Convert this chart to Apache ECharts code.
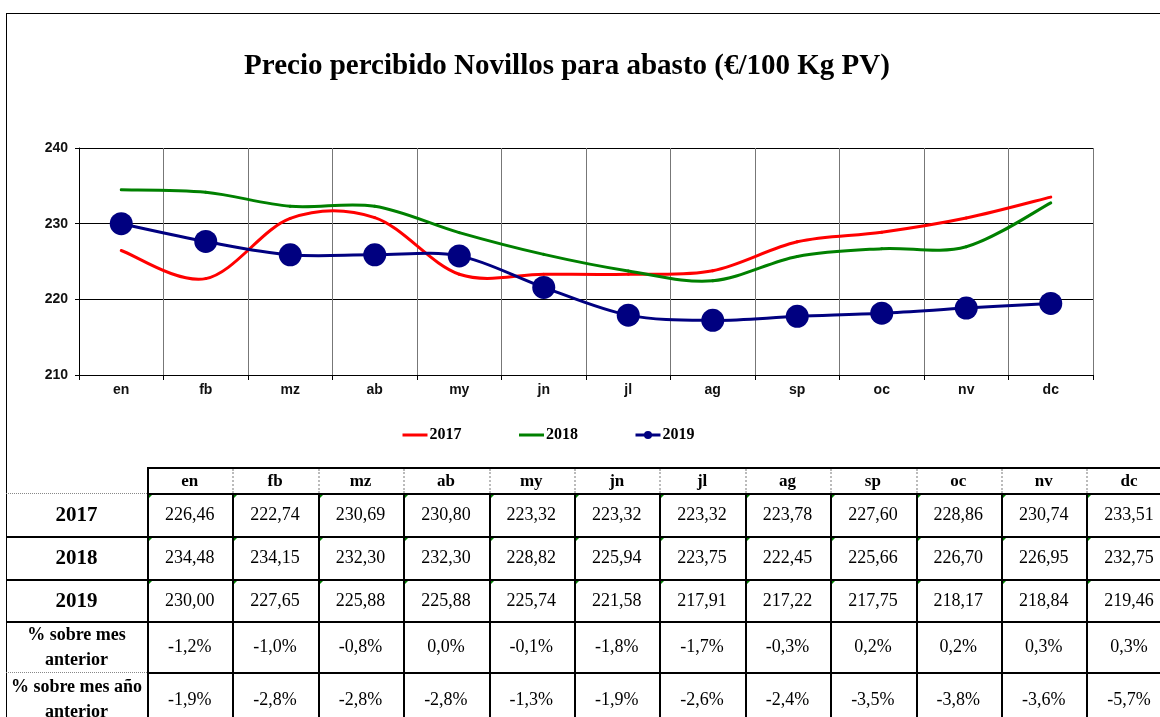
<!DOCTYPE html>
<html>
<head>
<meta charset="utf-8">
<script src="https://cdn.jsdelivr.net/npm/echarts@6/dist/echarts.min.js"></script>
<style>
  html, body { margin:0; padding:0; background:#fff; }
  #wrap { position:relative; width:1160px; height:717px; overflow:hidden; background:#fff; }
  #chart { position:absolute; left:0; top:0; width:1160px; height:717px; }
  #overlay { position:absolute; left:0; top:0; width:1160px; height:717px; pointer-events:none; }
  .ln { position:absolute; }
  .cell { position:absolute; display:flex; align-items:center; justify-content:center; text-align:center;
          font-family:"Liberation Serif","Times New Roman",serif; color:#000; box-sizing:border-box; }
  .tri { position:absolute; width:0; height:0; border-top:5px solid #008000; border-right:5px solid transparent; }
</style>
</head>
<body>
<div id="wrap">
  <div id="chart"></div>
  <div id="overlay"></div>
</div>
<script>
// ---- data ----
const months = ['en','fb','mz','ab','my','jn','jl','ag','sp','oc','nv','dc'];
const seriesNames = ['2017','2018','2019'];
const values2017 = [226.46,222.74,230.69,230.80,223.32,223.32,223.32,223.78,227.60,228.86,230.74,233.51];
const values2018 = [234.48,234.15,232.30,232.30,228.82,225.94,223.75,222.45,225.66,226.70,226.95,232.75];
const values2019 = [230.00,227.65,225.88,225.88,225.74,221.58,217.91,217.22,217.75,218.17,218.84,219.46];
const pctPrevMonth = [-1.2,-1.0,-0.8,0.0,-0.1,-1.8,-1.7,-0.3,0.2,0.2,0.3,0.3];
const pctPrevYear = [-1.9,-2.8,-2.8,-2.8,-1.3,-1.9,-2.6,-2.4,-3.5,-3.8,-3.6,-5.7];
const rowLabels = ['2017','2018','2019','% sobre mes anterior','% sobre mes año anterior'];
const yMin = 210, yMax = 240, yStep = 10;
const titleText = 'Precio percibido Novillos para abasto (€/100 Kg PV)';

const colors = ['#ff0000', '#008000', '#000080'];
const lineW = 3;

// Excel-style smoothed curve drawn through the axis scales (custom series)
function smoothCurve(values, color, z) {
  return {
    type:'custom', name:'curve', coordinateSystem:'cartesian2d', silent:true, z:z,
    data:[[0, values[0]]],
    renderItem:function(params, api) {
      const pts = values.map((v, i) => api.coord([i, v]));
      const children = [];
      for (let i = 0; i < pts.length - 1; i++) {
        const p0 = pts[i - 1] || pts[i], p1 = pts[i], p2 = pts[i + 1], p3 = pts[i + 2] || pts[i + 1];
        children.push({
          type:'bezierCurve',
          shape:{
            x1:p1[0], y1:p1[1], x2:p2[0], y2:p2[1],
            cpx1:p1[0] + (p2[0] - p0[0]) / 6, cpy1:p1[1] + (p2[1] - p0[1]) / 6,
            cpx2:p2[0] - (p3[0] - p1[0]) / 6, cpy2:p2[1] - (p3[1] - p1[1]) / 6
          },
          style:{fill:null, stroke:color, lineWidth:lineW, lineCap:'round', lineJoin:'round'}
        });
      }
      return {type:'group', children:children};
    }
  };
}

// ---- chart ----
const chart = echarts.init(document.getElementById('chart'), null, {renderer:'canvas'});
chart.setOption({
  animation:false,
  backgroundColor:'#fff',
  title:{
    text:titleText, left:562, top:47, textAlign:'center',
    textStyle:{fontFamily:'Liberation Serif', fontWeight:'bold', fontSize:29, color:'#000'}
  },
  legend:{
    left:396, top:422, itemWidth:25, itemHeight:10, itemGap:56,
    textStyle:{fontFamily:'Liberation Serif', fontWeight:'bold', fontSize:16, color:'#000', padding:[0,0,0,-3]},
    data:[
      {name:seriesNames[0], itemStyle:{opacity:0}, lineStyle:{width:3, color:colors[0], opacity:1}},
      {name:seriesNames[1], itemStyle:{opacity:0}, lineStyle:{width:3, color:colors[1], opacity:1}},
      {name:seriesNames[2], lineStyle:{width:3, color:colors[2], opacity:1}}
    ]
  },
  grid:{left:79, right:67, top:148, bottom:342, containLabel:false},
  xAxis:{
    type:'category', data:months, boundaryGap:true,
    axisLine:{lineStyle:{color:'#000', width:1}},
    axisTick:{show:true, length:5, lineStyle:{color:'#000'}},
    axisLabel:{fontFamily:'Liberation Sans', fontWeight:'bold', fontSize:14, color:'#111', margin:8},
    splitLine:{show:true, lineStyle:{color:'#777', width:1}}
  },
  yAxis:{
    type:'value', min:yMin, max:yMax, interval:yStep,
    axisLine:{show:true, lineStyle:{color:'#000', width:1}},
    axisTick:{show:true, length:4, lineStyle:{color:'#000'}},
    axisLabel:{fontFamily:'Liberation Sans', fontWeight:'bold', fontSize:14, color:'#111', margin:11},
    splitLine:{show:true, lineStyle:{color:'#000', width:1}}
  },
  series:[
    {name:seriesNames[0], type:'line', data:values2017, symbol:'none',
     lineStyle:{color:colors[0], width:0}, itemStyle:{color:colors[0]}, z:2},
    {name:seriesNames[1], type:'line', data:values2018, symbol:'none',
     lineStyle:{color:colors[1], width:0}, itemStyle:{color:colors[1]}, z:2},
    {name:seriesNames[2], type:'line', data:values2019, symbol:'circle', symbolSize:23,
     lineStyle:{color:colors[2], width:0}, itemStyle:{color:colors[2]}, z:5},
    smoothCurve(values2017, colors[0], 2),
    smoothCurve(values2018, colors[1], 2),
    smoothCurve(values2019, colors[2], 3)
  ]
});

// ---- frame + table overlay ----
const ov = document.getElementById('overlay');
function line(x, y, w, h, style) {
  const d = document.createElement('div');
  d.className = 'ln';
  d.style.left = x + 'px'; d.style.top = y + 'px';
  d.style.width = w + 'px'; d.style.height = h + 'px';
  Object.assign(d.style, style);
  ov.appendChild(d);
}
function cell(x, y, w, h, html, css) {
  const d = document.createElement('div');
  d.className = 'cell';
  d.style.left = x + 'px'; d.style.top = y + 'px';
  d.style.width = w + 'px'; d.style.height = h + 'px';
  d.innerHTML = html;
  Object.assign(d.style, css || {});
  ov.appendChild(d);
}
// frame
line(6, 13, 1154, 1, {background:'#000'});
line(6, 13, 1, 704, {background:'#000'});

const colX0 = 147, colW = 85.4;
const colX = [];
for (let k = 0; k <= months.length; k++) colX.push(colX0 + colW * k);
const rowY = [467, 493, 536, 579, 621, 672, 726];
const fmt2 = v => v.toFixed(2).replace('.', ',');
const fmtP = v => v.toFixed(1).replace('.', ',') + '%';
const rows = [
  values2017.map(fmt2), values2018.map(fmt2), values2019.map(fmt2),
  pctPrevMonth.map(fmtP), pctPrevYear.map(fmtP)
];

months.forEach((m, i) => {
  cell(colX[i], rowY[0], colW, rowY[1] - rowY[0], m, {fontWeight:'bold', fontSize:'17px', paddingTop:'2px'});
});
rows.forEach((vals, r) => {
  const y0 = rowY[r + 1], h = rowY[r + 2] - rowY[r + 1];
  const isYear = r < 3;
  cell(6, y0, colX0 - 6, h, rowLabels[r],
       isYear ? {fontWeight:'bold', fontSize:'21px'}
              : {fontWeight:'bold', fontSize:'18px', lineHeight:'25px', padding:'0 1px'});
  vals.forEach((v, i) => {
    cell(colX[i], y0, colW, h, v, {fontSize:'18px'});
    if (isYear) {
      const t = document.createElement('div');
      t.className = 'tri';
      t.style.left = (colX[i] + 1) + 'px'; t.style.top = (y0 + 1) + 'px';
      ov.appendChild(t);
    }
  });
});

const solid = {background:'#000'};
const dotted = {borderTop:'1px dotted #888'};
const dottedV = {borderLeft:'2px dotted #bbb'};
line(colX0, rowY[0], 1160 - colX0, 2, solid);
line(6, rowY[1], colX0 - 6, 1, dotted);
line(colX0, rowY[1], 1160 - colX0, 2, solid);
[2, 3, 4].forEach(r => line(6, rowY[r], 1154, 2, solid));
line(6, rowY[5], colX0 - 6, 1, dotted);
line(colX0, rowY[5], 1160 - colX0, 2, solid);
line(colX0, rowY[0], 2, rowY[6] - rowY[0], solid);
for (let k = 1; k < colX.length; k++) {
  line(Math.round(colX[k]), rowY[0] + 2, 0, rowY[1] - rowY[0] - 2, dottedV);
  line(Math.round(colX[k]), rowY[1], 2, rowY[6] - rowY[1], solid);
}
</script>
</body>
</html>
